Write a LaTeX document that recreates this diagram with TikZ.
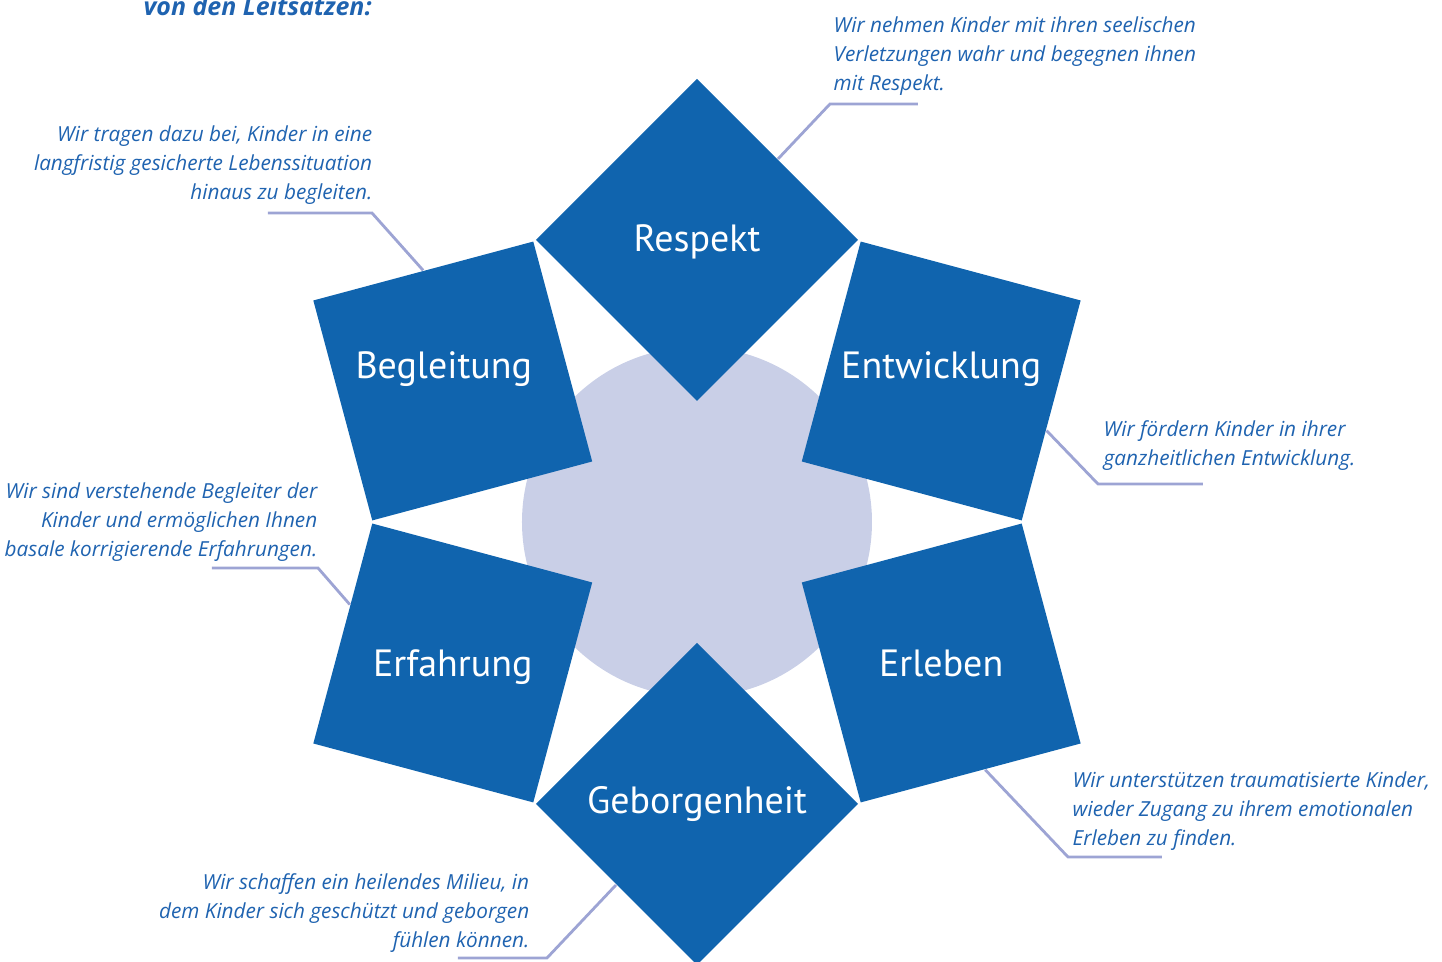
\documentclass[tikz,border=0pt]{standalone}
\usepackage{fontspec}
\setmainfont{Open Sans}
\newfontfamily\wortfont{PT Sans}
\usetikzlibrary{positioning, calc}

\definecolor{leitblau}{HTML}{1064AE}
\definecolor{kreisgrau}{HTML}{C9CFE7}
\definecolor{linie}{HTML}{9DA4D4}
\definecolor{textblau}{HTML}{1F63B0}

\begin{document}
\begin{tikzpicture}[
        feld/.style={rectangle, fill=leitblau, minimum size=2.277cm, inner sep=0},
        wort/.style={text=white, font=\wortfont\fontsize{10.8}{13}\selectfont},
        satz/.style={text=textblau, inner sep=0, font=\fontsize{5.9}{8.23}\selectfont\itshape},
        zeiger/.style={draw=linie, line width=0.8pt}
    ]
        \clip (-6.97,-4.40) rectangle (7.45,5.22);

        % Kreis in der Mitte
        \fill[kreisgrau] (0,0) circle (1.75);

        % die sechs Felder
        \node[feld, rotate=45] (respekt) at (90:2.82) {};
        \node[feld, rotate=-15] (entw) at (30:2.82) {};
        \node[feld, rotate=-75] (erleb) at (-30:2.82) {};
        \node[feld, rotate=-135] (gebor) at (-90:2.82) {};
        \node[feld, rotate=165] (erfahr) at (210:2.82) {};
        \node[feld, rotate=105] (begl) at (150:2.82) {};

        \node[wort] (t1) at ($(respekt)+(0,-0.02)$) {Respekt};
        \node[wort] (t2) at ($(entw)+(0,0.12)$) {Entwicklung};
        \node[wort] (t3) at (erleb) {Erleben};
        \node[wort] (t4) at (gebor) {Geborgenheit};
        \node[wort] (t5) at ($(erfahr)+(0,-0.04)$) {Erfahrung};
        \node[wort] (t6) at ($(begl)+(-0.09,0.12)$) {Begleitung};

        % Knicke der Linien
        \coordinate (k1) at (1.33,4.18);   \coordinate (e1) at (2.21,4.18);
        \coordinate (k2) at (4.01,0.38);   \coordinate (e2) at (5.06,0.38);
        \coordinate (k3) at (3.71,-3.35);  \coordinate (e3) at (4.65,-3.35);
        \coordinate (k4) at (-1.50,-4.36); \coordinate (e4) at (-2.39,-4.36);
        \coordinate (k5) at (-3.79,-0.46); \coordinate (e5) at (-4.85,-0.46);
        \coordinate (k6) at (-3.25,3.09);  \coordinate (e6) at (-4.29,3.09);

        \draw[zeiger] (respekt.east) -- (k1) -- (e1);
        \draw[zeiger] ($(entw.north east)!0.59!(entw.south east)$) -- (k2) -- (e2);
        \draw[zeiger] ($(erleb.north east)!0.435!(erleb.south east)$) -- (k3) -- (e3);
        \draw[zeiger] (gebor.east) -- (k4) -- (e4);
        \draw[zeiger] ($(erfahr.north east)!0.63!(erfahr.south east)$) -- (k5) -- (e5);
        \draw[zeiger] (begl.east) -- (k6) -- (e6);

        % Texte
        \node[satz, anchor=north west, align=left] (s1) at (1.36,5.06)
            {Wir nehmen Kinder mit ihren seelischen\\Verletzungen wahr und begegnen ihnen\\mit Respekt.};
        \node[satz, anchor=north west, align=left] (s2) at (4.06,1.02)
            {Wir fördern Kinder in ihrer\\ganzheitlichen Entwicklung.};
        \node[satz, anchor=north west, align=left] (s3) at (3.75,-2.49)
            {Wir unterstützen traumatisierte Kinder,\\wieder Zugang zu ihrem emotionalen\\Erleben zu finden.};
        \node[satz, anchor=north east, align=right] (s4) at (-1.67,-3.51)
            {Wir schaffen ein heilendes Milieu, in\\dem Kinder sich geschützt und geborgen\\fühlen können.};
        \node[satz, anchor=north east, align=right] (s5) at (-3.79,0.40)
            {Wir sind verstehende Begleiter der\\Kinder und ermöglichen Ihnen\\basale korrigierende Erfahrungen.};
        \node[satz, anchor=north east, align=right] (s6) at (-3.24,3.97)
            {Wir tragen dazu bei, Kinder in eine\\langfristig gesicherte Lebenssituation\\hinaus zu begleiten.};

        \node[text=textblau, inner sep=0, anchor=base west, font=\fontsize{7.1}{9}\selectfont\bfseries\itshape] (titel) at (-5.54,5.06) {von den Leitsätzen:};
\end{tikzpicture}
\end{document}
